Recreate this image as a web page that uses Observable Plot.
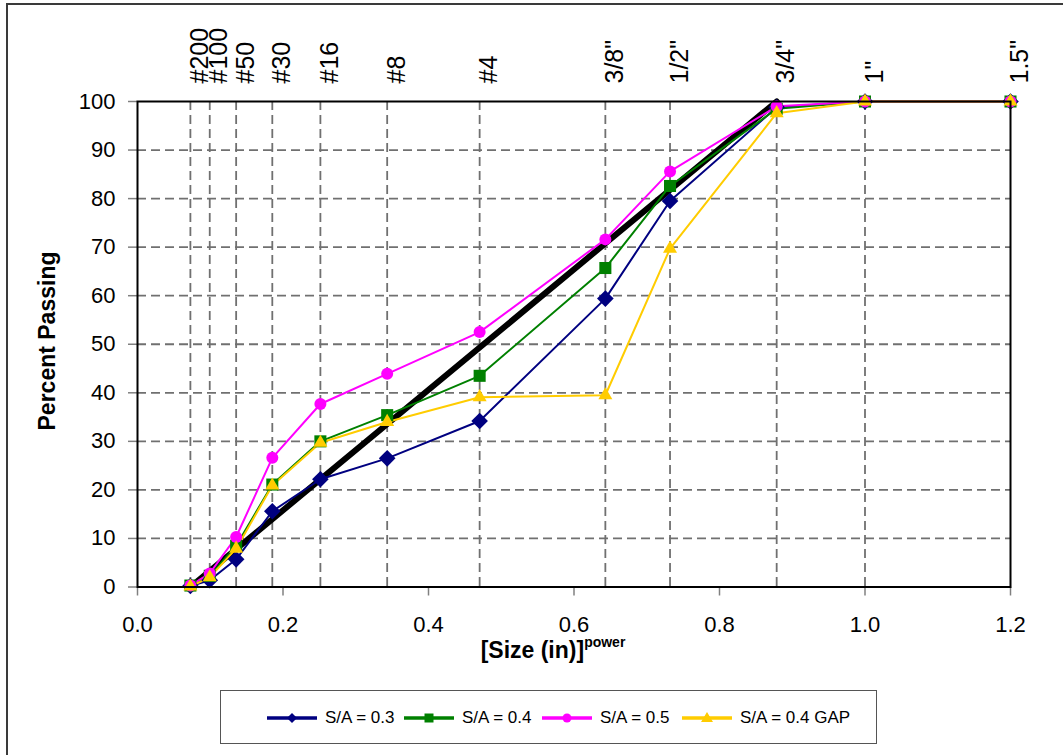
<!DOCTYPE html>
<html><head><meta charset="utf-8">
<script src="https://cdn.jsdelivr.net/npm/d3@7"></script>
<script src="https://cdn.jsdelivr.net/npm/@observablehq/plot@0.6"></script>
<style>
body{margin:0;background:#fff;font-family:"Liberation Sans",Arial,sans-serif;}
#wrap{position:relative;width:1063px;height:755px;overflow:hidden;background:#fff;}
#frame{position:absolute;left:6px;top:3px;width:1120px;height:820px;border:2px solid #3a3a3a;pointer-events:none;}
#chart{position:absolute;left:0;top:0;}
#xtitle{position:absolute;left:0;width:1106px;top:636px;text-align:center;font-weight:bold;font-size:23px;color:#000;}
#xtitle sup{font-size:14px;position:relative;top:-2px;}
#ytitle{position:absolute;left:47px;top:341px;transform:translate(-50%,-50%) rotate(-90deg);font-weight:bold;font-size:23px;white-space:nowrap;}
#legend{position:absolute;left:220px;top:690px;width:657px;height:54px;border:1.5px solid #555;box-sizing:border-box;background:#fff;}
.item{position:absolute;top:0;height:54px;display:flex;align-items:center;font-size:17px;white-space:nowrap;}
.item svg{margin-right:8px;}
</style>
</head><body>
<div id="wrap">
  <div id="chart"></div>
  <div id="xtitle">[Size (in)]<sup>power</sup></div>
  <div id="ytitle">Percent Passing</div>
  <div id="legend"></div>
  <div id="frame"></div>
</div>
<script>
// Sieve sizes on the [size(in)]^0.45 axis and their labels
const sieveLabels = ["#200","#100","#50","#30","#16","#8","#4","3/8\"","1/2\"","3/4\"","1\"","1.5\""];
const sieveX = [0.0727,0.0993,0.1356,0.1853,0.2514,0.3432,0.4703,0.6431,0.7320,0.8786,1.0,1.2];
// Percent passing per series
const sa03    = [0.2,1.4,5.7,15.6,22.2,26.5,34.2,59.4,79.5,98.8,100,100];
const sa04    = [0.3,2.3,8.5,21.1,30.0,35.4,43.5,65.7,82.6,98.5,100,100];
const sa05    = [0.3,2.8,10.3,26.6,37.7,43.9,52.5,71.6,85.6,99.0,100,100];
const sa04gap = [0.1,2.0,7.9,20.9,29.7,34.0,39.1,39.5,69.7,97.6,100,100];
// Maximum density line
const mdX = [0.0727,0.8786];
const mdY = [0,100];
// Axis ticks
const xTicks = [0,0.2,0.4,0.6,0.8,1.0,1.2];
const yTicks = [0,10,20,30,40,50,60,70,80,90,100];
const yGrid  = [10,20,30,40,50,60,70,80,90];

const series = [
  {name:"S/A = 0.3", values:sa03, color:"#000080", symbol:"diamond2", r:7.5},
  {name:"S/A = 0.4", values:sa04, color:"#008000", symbol:"square", r:6.8},
  {name:"S/A = 0.5", values:sa05, color:"#FF00FF", symbol:"circle", r:6},
  {name:"S/A = 0.4 GAP", values:sa04gap, color:"#FFCC00", symbol:"triangle", r:5.2}
];
const rows = s => sieveX.map((x,i)=>({x, y:s.values[i]}));
const mdRows = mdX.map((x,i)=>({x, y:mdY[i]}));
const topRows = sieveX.map((x,i)=>({x, label:sieveLabels[i]}));

const marks = [
  Plot.ruleY(yGrid, {y:d=>d, stroke:"#707070", strokeWidth:1.8, strokeDasharray:"9,5"}),
  Plot.ruleX(sieveX.slice(0,-1), {x:d=>d, stroke:"#707070", strokeWidth:1.8, strokeDasharray:"9,5"}),
  Plot.axisY({ticks:yTicks, tickSize:9, tickPadding:13, stroke:"#808080", strokeWidth:1.5, fontSize:22, label:null}),
  Plot.axisX({ticks:xTicks, tickFormat:d=>d.toFixed(1), tickSize:9, tickPadding:20, stroke:"#808080", strokeWidth:1.5, fontSize:22, label:null}),
  Plot.text(topRows, {x:"x", text:"label", frameAnchor:"top", rotate:-90, textAnchor:"start", dy:-18, fontSize:25, fill:"black"}),
  Plot.line(mdRows, {x:"x", y:"y", stroke:"black", strokeWidth:6})
];
for (const s of series) marks.push(Plot.line(rows(s), {x:"x", y:"y", stroke:s.color, strokeWidth:2}));
for (const s of series) marks.push(Plot.dot(rows(s), {x:"x", y:"y", fill:s.color, symbol:s.symbol, r:s.r}));
marks.push(Plot.frame({stroke:"black", strokeWidth:2}));

const chart = Plot.plot({
  width:1063, height:755,
  marginLeft:137, marginRight:53, marginTop:101, marginBottom:168.5,
  x:{domain:[0,1.2], axis:null},
  y:{domain:[0,100], axis:null},
  style:{fontFamily:"'Liberation Sans', Arial, sans-serif", color:"black", background:"white"},
  marks
});
document.getElementById("chart").appendChild(chart);

// Legend
const legendX = [46, 183, 321, 461];
const lg = document.getElementById("legend");
series.forEach((s,i)=>{
  const div = document.createElement("div");
  div.className="item"; div.style.left = legendX[i]+"px";
  const sym = {diamond2:"M25,3 L30,8 L25,13 L20,8Z", square:"M20.5,3.5h9v9h-9Z", triangle:"M25,2 L31,12 L19,12Z"}[s.symbol];
  const m = s.symbol==="circle" ? `<circle cx="25" cy="8" r="4.5" fill="${s.color}"/>` : `<path d="${sym}" fill="${s.color}"/>`;
  div.innerHTML = `<svg width="50" height="16"><line x1="0" x2="50" y1="8" y2="8" stroke="${s.color}" stroke-width="3.5"/>${m}</svg><span>${s.name}</span>`;
  lg.appendChild(div);
});
</script>
</body></html>
